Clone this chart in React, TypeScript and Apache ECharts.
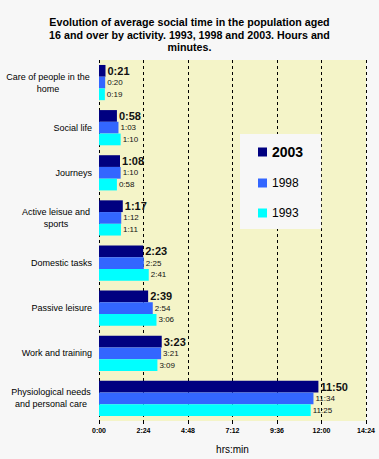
import React, { useEffect, useRef } from "react";
import * as echarts from "echarts";

const categories = [
  "Care of people in the\nhome",
  "Social life",
  "Journeys",
  "Active leisue and\nsports",
  "Domestic tasks",
  "Passive leisure",
  "Work and training",
  "Physiological needs\nand personal care",
];
const years = ["2003", "1998", "1993"];
const values2003 = [21, 58, 68, 77, 143, 159, 203, 710];
const values1998 = [20, 63, 70, 72, 145, 174, 201, 694];
const values1993 = [19, 70, 58, 71, 161, 186, 189, 685];
const colors = ["#000080", "#3366ff", "#00ffff"];

const fmt = (m: number) => {
  const h = Math.floor(m / 60);
  const mm = Math.round(m - h * 60);
  return `${h}:${mm < 10 ? "0" : ""}${mm}`;
};

const labelWidths: Record<string, number> = {
  "Care of people in the\nhome": 88,
  "Active leisue and\nsports": 72,
  "Physiological needs\nand personal care": 82,
};

export default function App() {
  const ref = useRef<HTMLDivElement>(null);
  useEffect(() => {
    if (!ref.current) return;
    const chart = echarts.init(ref.current, undefined, { renderer: "svg" });
    const mkSeries = (name: string, data: number[], i: number) => ({
      name,
      type: "bar",
      data,
      itemStyle: { color: colors[i] },
      barGap: "0%",
      barCategoryGap: "22%",
      label: {
        show: true,
        position: "right",
        distance: 2,
        formatter: (p: any) => fmt(p.value),
        color: "#111",
        fontFamily: "Liberation Sans, Arial, sans-serif",
        fontSize: i === 0 ? 11 : 8,
        fontWeight: i === 0 ? "bold" : "normal",
      },
    });
    chart.setOption({
      animation: false,
      backgroundColor: "#f7f7f7",
      title: {
        text: "Evolution of average social time in the population aged\n16 and over by activity. 1993, 1998 and 2003. Hours and\nminutes.",
        left: "center",
        top: 11,
        textStyle: {
          fontFamily: "Liberation Sans, Arial, sans-serif",
          fontSize: 10.7,
          fontWeight: "bold",
          lineHeight: 12.5,
          color: "#000",
        },
      },
      legend: {
        orient: "vertical",
        left: 240,
        top: 134,
        padding: [11, 18, 10, 18],
        backgroundColor: "#f7f7f7",
        itemWidth: 9,
        itemHeight: 9,
        itemGap: 18,
        icon: "rect",
        textStyle: {
          fontFamily: "Liberation Sans, Arial, sans-serif",
          fontSize: 12,
          color: "#000",
        },
        data: [
          { name: years[0], textStyle: { fontWeight: "bold", fontSize: 14 } },
          { name: years[1] },
          { name: years[2] },
        ],
      },
      grid: {
        left: 99,
        right: 13,
        top: 60,
        bottom: 36,
        show: true,
        backgroundColor: "#f4f4c8",
        borderWidth: 0,
      },
      xAxis: {
        type: "value",
        min: 0,
        max: 864,
        interval: 144,
        name: "hrs:min",
        nameLocation: "middle",
        nameGap: 23,
        nameTextStyle: {
          fontFamily: "Liberation Sans, Arial, sans-serif",
          fontSize: 10,
          color: "#000",
        },
        axisLine: { show: false },
        axisTick: { show: true, length: 3, lineStyle: { color: "#000" } },
        axisLabel: {
          formatter: (v: number) => fmt(v),
          fontFamily: "Liberation Sans, Arial, sans-serif",
          fontSize: 7,
          fontWeight: "bold",
          color: "#000",
          margin: 6,
        },
        splitLine: {
          show: true,
          lineStyle: { color: "#000", type: [3, 3], width: 1 },
        },
      },
      yAxis: {
        type: "category",
        inverse: true,
        data: categories,
        axisLine: { show: false },
        axisTick: { show: false },
        axisLabel: {
          margin: 7,
          fontFamily: "Liberation Sans, Arial, sans-serif",
          fontSize: 9,
          color: "#000",
          lineHeight: 12,
          formatter: (v: string) => {
            const w = labelWidths[v];
            if (!w) return v;
            return v
              .split("\n")
              .map((l) => `{w${w}|${l}}`)
              .join("\n");
          },
          rich: {
            w88: { width: 88, align: "center", fontSize: 9, lineHeight: 12 },
            w72: { width: 72, align: "center", fontSize: 9, lineHeight: 12 },
            w82: { width: 82, align: "center", fontSize: 9, lineHeight: 12 },
          },
        },
      },
      series: [
        mkSeries(years[0], values2003, 0),
        mkSeries(years[1], values1998, 1),
        mkSeries(years[2], values1993, 2),
      ],
    });
    return () => chart.dispose();
  }, []);
  return (
    <div
      ref={ref}
      style={{ position: "fixed", left: 0, top: 0, width: 379, height: 459 }}
    />
  );
}
